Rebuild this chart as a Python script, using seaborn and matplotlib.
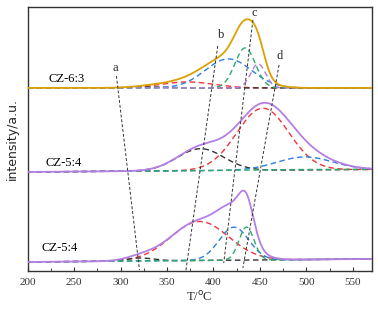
import numpy as np
import pandas as pd
import matplotlib
matplotlib.use("Agg")
import matplotlib.pyplot as plt
import seaborn as sns

# ---- data ----
samples = ["CZ-6:3", "CZ-5:4", "CZ-5:4"]
base_left = [183.0, 99.0, 9.0]
base_right = [183.0, 101.5, 12.0]
total_colors = ["#DBA100", "#B57FE3", "#B57FE3"]

# Fitted Gaussian components per sample: centre T, height, sigma
comp_names = ["red", "black", "blue", "green", "purple"]
comp_colors = {"red": "#F0353A", "black": "#333333", "blue": "#2E7FDF",
               "green": "#2FA86A", "purple": "#B57FE3"}
top_centres = [372, 330, 416, 434, 448]
top_heights = [6, 1, 29, 40, 24]
top_sigmas = [28, 20, 25, 11, 8]
mid_centres = [453, 386, 498, 470, 470]
mid_heights = [62, 22, 13, 0.5, 0]
mid_sigmas = [28, 25, 30, 60, 10]
bot_centres = [385, 321, 422, 435.5, 436]
bot_heights = [39, 3, 33, 33, 0]
bot_sigmas = [31, 15, 16, 8, 8]
centres = [top_centres, mid_centres, bot_centres]
heights = [top_heights, mid_heights, bot_heights]
sigmas = [top_sigmas, mid_sigmas, bot_sigmas]

# guide lines a-d
guide_names = ["a", "b", "c", "d"]
guide_T_top = [295.6, 404.6, 442.4, 470.5]
guide_y_top = [195, 225, 251, 206]
guide_T_bot = [320.4, 370.1, 411.0, 431.6]
guide_y_bot = [1, -1, 8, 3]
label_T = [294.6, 408.0, 443.5, 471.6]
label_y = [203, 236, 258, 215]

sample_label_T = [241.6, 239.0, 235.0]
sample_label_y = [192, 108, 23]

T = np.linspace(200, 570, 1200)

sns.set_theme(style="white")
plt.rcParams["font.family"] = ["Liberation Serif", "DejaVu Serif"]

fig = plt.figure(figsize=(3.78, 3.14), dpi=100)
ax = fig.add_axes([0.0728, 0.137, 0.9102, 0.841])

for i in range(3):
    base = base_left[i] + (base_right[i] - base_left[i]) * (T - 200) / 370
    total = np.zeros_like(T)
    for j, name in enumerate(comp_names):
        g = heights[i][j] * np.exp(-(T - centres[i][j]) ** 2 / (2 * sigmas[i][j] ** 2))
        total += g
        if heights[i][j] > 0 or name in ("green", "black"):
            df = pd.DataFrame({"T": T, "y": base + g})
            sns.lineplot(data=df, x="T", y="y", ax=ax, color=comp_colors[name],
                         lw=1.0, linestyle=(0, (4, 2.5)), zorder=2)
    df = pd.DataFrame({"T": T, "y": base + total})
    sns.lineplot(data=df, x="T", y="y", ax=ax, color=total_colors[i], lw=1.3, zorder=3)
    ax.text(sample_label_T[i], sample_label_y[i], samples[i], ha="center", va="center",
            fontsize=9, color="black")

for k in range(4):
    ax.plot([guide_T_top[k], guide_T_bot[k]], [guide_y_top[k], guide_y_bot[k]],
            color="#333333", lw=0.7, linestyle=(0, (3, 2)), zorder=4)
    ax.text(label_T[k], label_y[k], guide_names[k], ha="center", va="center", fontsize=9)

ax.set_xlim(200, 570)
ax.set_ylim(0, 264)
ax.set_xticks([200, 250, 300, 350, 400, 450, 500, 550])
ax.set_xticks(np.arange(225, 570, 50), minor=True)
ax.set_yticks([])
ax.tick_params(axis="x", which="major", direction="in", length=3, width=0.8,
               labelsize=8, colors="#333333", pad=5, bottom=True)
ax.tick_params(axis="x", which="minor", direction="in", length=2, width=0.6, bottom=True)
for s in ax.spines.values():
    s.set_color("#333333")
    s.set_linewidth(1.0)
ax.set_xlabel("T/$^{\\rm o}$C", fontsize=9, labelpad=2)
ax.set_ylabel("intensity/a.u.", fontsize=9, family=["DejaVu Sans"], labelpad=6)

fig.savefig("out.png", dpi=100)
